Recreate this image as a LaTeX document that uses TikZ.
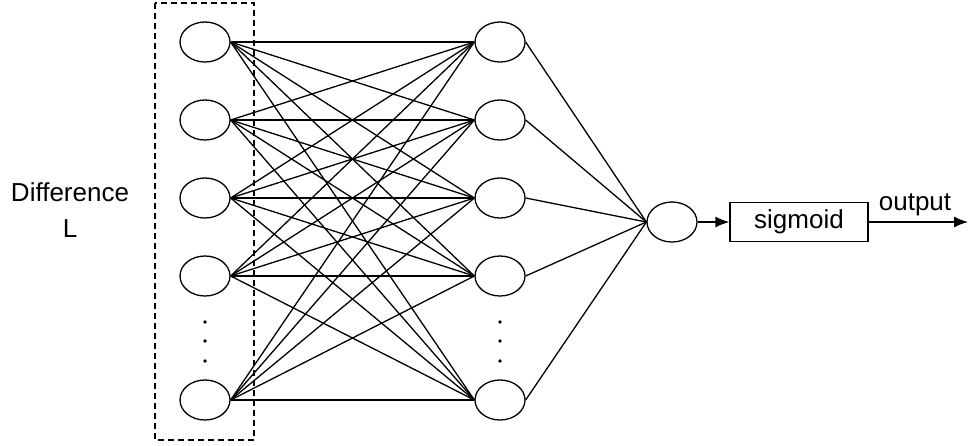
\documentclass[tikz,border=0pt]{standalone}
\usepackage{fontspec}
\setmainfont{Liberation Sans}
\usetikzlibrary{shapes.geometric,arrows.meta}
\begin{document}
\begin{tikzpicture}[x=1pt,y=-1pt,
  neuron/.style={draw,ellipse,minimum width=50pt,minimum height=40pt,inner sep=0pt,line width=1.3pt},
  conn/.style={line width=1.3pt},
  lbl/.style={font=\fontsize{26}{30}\selectfont,inner sep=0pt}]
\useasboundingbox (0,0) rectangle (975,445);
\draw[line width=1.6pt,dash pattern=on 6pt off 4pt] (155,3) rectangle (254,440);
\foreach \i/\y in {1/42,2/120,3/198,4/276,5/400}{
  \node[neuron] (i\i) at (205,\y) {};
  \node[neuron] (h\i) at (500,\y) {};
}
\foreach \y in {322,341,361}{
  \fill (205,\y) circle (1.8pt);
  \fill (500,\y) circle (1.8pt);
}
\node[neuron] (o) at (672,222) {};
\foreach \i in {1,...,5}{
  \foreach \j in {1,...,5}{
    \draw[conn] (i\i.east) -- (h\j.west);
  }
  \draw[conn] (h\i.east) -- (o.west);
}
\node[draw,line width=1.3pt,lbl,minimum width=138pt,minimum height=39pt] (s) at (799,222) {sigmoid};
\coordinate (end) at (968,222);
\draw[conn,-{Latex[length=14pt,width=11pt]}] (o.east) -- (s.west);
\draw[conn,-{Latex[length=14pt,width=11pt]}] (s.east) -- (end);
\node[lbl,anchor=base] (out) at (915,210) {output};
\node[lbl,align=center] (diff) at (70,210) {Difference\\[6pt]L};
\end{tikzpicture}
\end{document}
